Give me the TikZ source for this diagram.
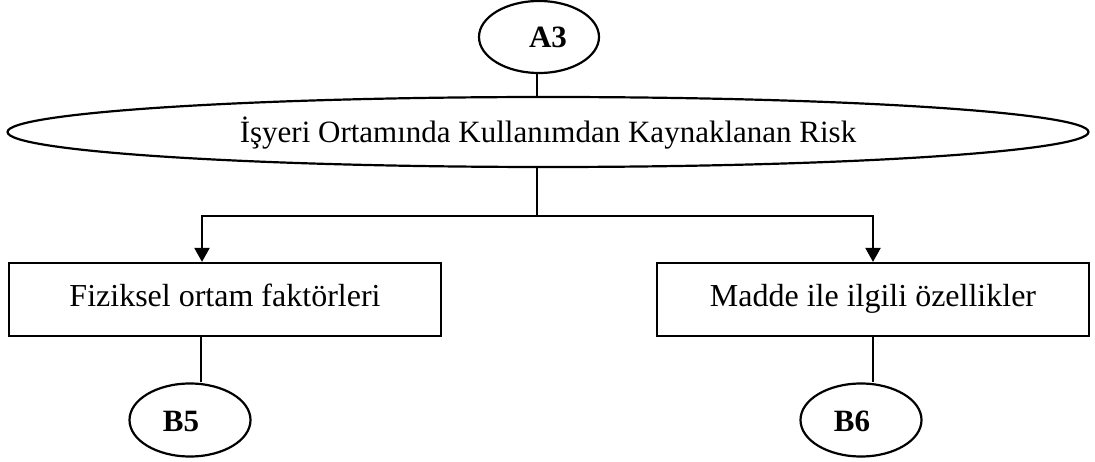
\documentclass[tikz,border=0pt]{standalone}
\usepackage{fontspec}
\setmainfont{Liberation Serif}
\usetikzlibrary{shapes.geometric,arrows.meta}

\tikzset{
  base/.style={draw=black, line width=2.2pt, inner sep=0pt,
    font=\fontsize{32}{38}\selectfont},
  oval/.style={base, ellipse, text height=28pt, text depth=6pt},
  label oval/.style={oval, font=\fontsize{31}{37}\selectfont\bfseries},
  boxnode/.style={base, rectangle, minimum width=432pt, minimum height=73pt,
    text height=22pt, text depth=7pt},
  link/.style={line width=2.2pt, draw=black},
  arrowlink/.style={link, -{Triangle[width=15pt,length=14pt]}}
}

\begin{document}
\begin{tikzpicture}[x=1pt, y=-1pt]
  \useasboundingbox (0,0) rectangle (1095,462);

  % connector ovals and the central risk node
  \node[label oval, minimum width=120pt, minimum height=72pt] (a3) at (539,37) {\kern18pt A3};
  \node[oval, font=\fontsize{31}{37}\selectfont, minimum width=1081pt, minimum height=70pt] (risk) at (548,132) {İşyeri Ortamında Kullanımdan Kaynaklanan Risk};

  % the two factor boxes
  \node[boxnode] (phys) at (225,299.5) {Fiziksel ortam faktörleri};
  \node[boxnode] (matter) at (873,299.5) {Madde ile ilgili özellikler};

  % lower connector ovals
  \node[label oval, minimum width=121pt, minimum height=73pt] (b5) at (190,420) {B5\kern18pt};
  \node[label oval, minimum width=121pt, minimum height=73pt] (b6) at (861,420) {B6\kern18pt};

  % branch point below the risk oval
  \coordinate (split) at (537,216);
  \coordinate (physin) at ([xshift=-23pt]phys.north);
  \coordinate (physout) at ([xshift=-24pt]phys.south);

  % connectors
  \draw[link] ([xshift=-2pt]a3.south) -- ([xshift=-2pt]a3.south |- risk.north);
  \draw[link] (split |- risk.south) -- (split);
  \draw[arrowlink] (split) -| (physin);
  \draw[arrowlink] (split) -| (matter.north);
  \draw[link] (physout) -- (physout |- b5.north);
  \draw[link] (matter.south) -- (matter.south |- b6.north);
\end{tikzpicture}
\end{document}
